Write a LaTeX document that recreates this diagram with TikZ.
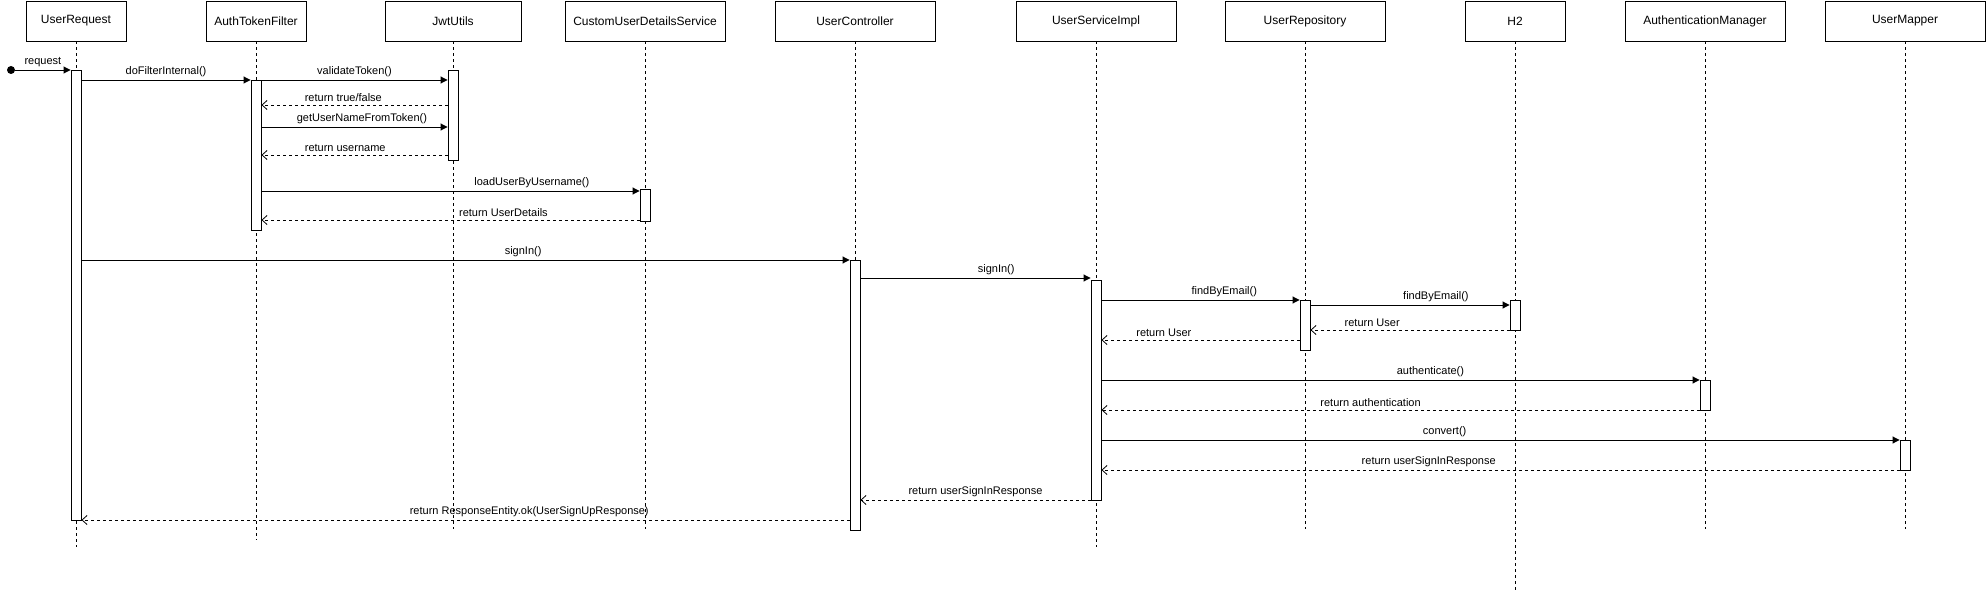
\documentclass[tikz,border=0pt]{standalone}
\usepackage{fontspec}
\setmainfont{Liberation Sans}
\usetikzlibrary{arrows.meta}

\tikzset{
  head/.style={draw, line width=0.9pt, minimum height=40, inner sep=0pt, font=\fontsize{12}{14}\selectfont},
  life/.style={line width=0.8pt, dash pattern=on 3pt off 3pt},
  act/.style={draw, fill=white, line width=0.9pt, minimum width=10, inner sep=0pt},
  call/.style={line width=0.9pt, -{Triangle[length=7pt,width=7pt]}},
  ret/.style={line width=0.8pt, dash pattern=on 3pt off 3pt, -{Straight Barb[length=5pt,width=9pt]}},
  lbl/.style={above, inner sep=3pt, font=\fontsize{11}{13}\selectfont},
}

\begin{document}
\begin{tikzpicture}[x=1pt, y=-1pt]
        \useasboundingbox (0,0) rectangle (1986,591);

        % heads and lifelines
        \foreach \n/\x/\w/\t/\e in {ur/76/100/UserRequest/547, atf/256/100/AuthTokenFilter/540,
            jwt/453/136/JwtUtils/529, cuds/645/160/CustomUserDetailsService/529,
            uc/855/160/UserController/530, usi/1096/160/UserServiceImpl/547,
            repo/1305/160/UserRepository/529, h2/1515/100/H2/590,
            am/1705/160/AuthenticationManager/529, um/1905/160/UserMapper/529}
        {
            \node[head, minimum width=\w] (\n) at (\x,21) {\t};
            \draw[life] (\n.south) -- (\n.south |- 0,\e);
        }

        % activation bars
        \foreach \a/\n/\c/\h in {aur/ur/295/450, aatf/atf/155/150, ajwt/jwt/115/90,
            acuds/cuds/205/32, auc/uc/395/270, ausi/usi/390/220, arepo/repo/325/50,
            ah2/h2/315/30, aam/am/395/30, aum/um/455/30}
            \node[act, minimum height=\h] (\a) at (\n.south |- 0,\c) {};

        % filter chain
        \node[circle, fill, inner sep=0pt, minimum size=8] (start) at (11,70) {};
        \draw[call] (start) -- node[lbl] {request} (aur.west |- start);
        \draw[call] (aur.east |- 0,80) -- node[lbl] {doFilterInternal()} (aatf.west |- 0,80);
        \draw[call] (aatf.east |- 0,80) -- node[lbl] {validateToken()} (ajwt.west |- 0,80);
        \draw[ret] (ajwt.west |- 0,105) -- node[lbl, pos=0.56] {return true/false} (aatf.east |- 0,105);
        \draw[call] (aatf.east |- 0,127) -- node[lbl, pos=0.54] {getUserNameFromToken()} (ajwt.west |- 0,127);
        \draw[ret] (ajwt.west |- 0,155) -- node[lbl, pos=0.55] {return username} (aatf.east |- 0,155);
        \draw[call] (aatf.east |- 0,191) -- node[lbl, pos=0.715] {loadUserByUsername()} (acuds.west |- 0,191);
        \draw[ret] (acuds.west |- 0,220) -- node[lbl, pos=0.36] {return UserDetails} (aatf.east |- 0,220);

        % sign in
        \draw[call] (aur.east |- 0,260) -- node[lbl, pos=0.575] {signIn()} (auc.west |- 0,260);
        \draw[call] (auc.east |- 0,278) -- node[lbl, pos=0.59] {signIn()} (ausi.west |- 0,278);
        \draw[call] (ausi.east |- 0,300) -- node[lbl, pos=0.62] {findByEmail()} (arepo.west |- 0,300);
        \draw[call] (arepo.east |- 0,305) -- node[lbl, pos=0.63] {findByEmail()} (ah2.west |- 0,305);
        \draw[ret] (ah2.west |- 0,330) -- node[lbl, pos=0.69] {return User} (arepo.east |- 0,330);
        \draw[ret] (arepo.west |- 0,340) -- node[lbl, pos=0.685] {return User} (ausi.east |- 0,340);
        \draw[call] (ausi.east |- 0,380) -- node[lbl, pos=0.55] {authenticate()} (aam.west |- 0,380);
        \draw[ret] (aam.west |- 0,410) -- node[lbl, pos=0.55] {return authentication} (ausi.east |- 0,410);
        \draw[call] (ausi.east |- 0,440) -- node[lbl, pos=0.43] {convert()} (aum.west |- 0,440);
        \draw[ret] (aum.west |- 0,470) -- node[lbl, pos=0.59] {return userSignInResponse} (ausi.east |- 0,470);
        \draw[ret] (ausi.west |- 0,500) -- node[lbl] {return userSignInResponse} (auc.east |- 0,500);
        \draw[ret] (auc.west |- 0,520) -- node[lbl, pos=0.417] {return ResponseEntity.ok(UserSignUpResponse)} (aur.east |- 0,520);
    \end{tikzpicture}
\end{document}
